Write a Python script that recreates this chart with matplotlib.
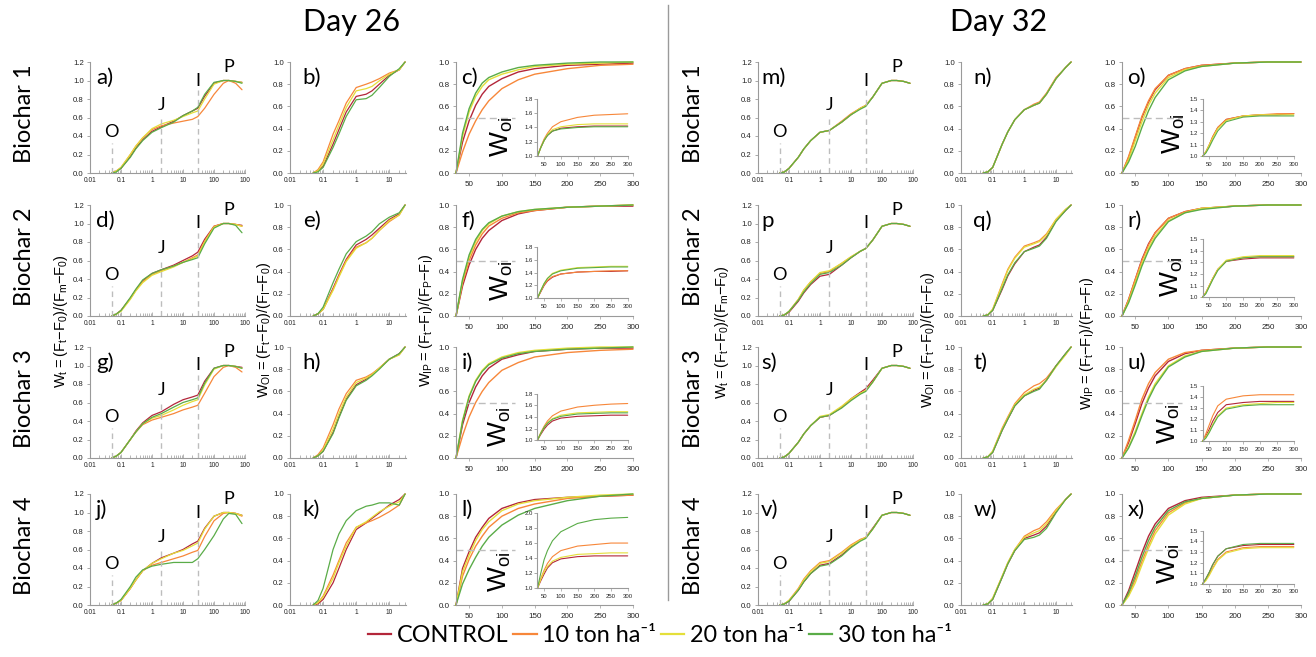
import numpy as np
import matplotlib
matplotlib.use('Agg')
import matplotlib.pyplot as plt
from matplotlib.lines import Line2D

plt.rcParams['font.family'] = ['Liberation Sans', 'DejaVu Sans']
BIG = ['Lato', 'DejaVu Sans']

W, H = 1316, 657

# treatments, in plotting order
TREATMENTS = ['CONTROL', '10 ton ha\u207b\u00b9', '20 ton ha\u207b\u00b9', '30 ton ha\u207b\u00b9']
COLORS = ['#b3263a', '#f7873a', '#e4df3a', '#5aac48']

DAYS = ['Day 26', 'Day 32']
BIOCHARS = ['Biochar 1', 'Biochar 2', 'Biochar 3', 'Biochar 4']

# time axes (ms)
T_OJIP = [0.05, 0.07, 0.1, 0.2, 0.3, 0.5, 1, 2, 5, 10, 20, 30, 50, 100, 200, 300, 500, 800]
T_WOI = [0.05, 0.07, 0.1, 0.2, 0.3, 0.5, 1, 2, 3, 5, 10, 20, 30]
T_WIP = [30, 40, 50, 60, 70, 80, 100, 125, 150, 200, 250, 300]
T_INS = [30, 40, 50, 60, 75, 100, 150, 200, 250, 300]

OJIP_TICKS = [0.01, 0.1, 1, 10, 100, 1000]
OJIP_TICKLABELS = ['0.01', '0.1', '1', '10', '100', '100']
WOI_TICKS = [0.01, 0.1, 1, 10]
WOI_TICKLABELS = ['0.01', '0.1', '1', '10']

# O, J, I, P steps
STEP_NAMES = ['O', 'J', 'I', 'P']
STEP_TIMES = [0.05, 2, 30, 300]
STEP_GUIDE_TOP = [0.32, 0.58, 0.9]
STEP_TEXT_Y = [0.44, 0.74, 1.0, 1.15]

HALF_LEVEL = 0.5
HALF_XMAX = 120

# ---- Day 26: W_t = (Ft-F0)/(Fm-F0) ------------------------------------
wt_a = [[0, 0.02, 0.05, 0.18, 0.27, 0.36, 0.45, 0.50, 0.56, 0.62, 0.67, 0.70, 0.83, 0.97, 1.00, 1.00, 0.99, 0.98],
        [0, 0.02, 0.06, 0.20, 0.29, 0.38, 0.47, 0.51, 0.54, 0.56, 0.58, 0.61, 0.70, 0.85, 0.97, 1.00, 0.97, 0.90],
        [0, 0.02, 0.06, 0.20, 0.29, 0.38, 0.48, 0.53, 0.57, 0.61, 0.65, 0.67, 0.80, 0.96, 1.00, 1.00, 0.99, 0.98],
        [0, 0.01, 0.05, 0.17, 0.26, 0.35, 0.44, 0.49, 0.55, 0.62, 0.67, 0.71, 0.85, 0.98, 1.00, 1.00, 0.99, 0.97]]
wt_d = [[0, 0.02, 0.06, 0.19, 0.28, 0.38, 0.46, 0.50, 0.55, 0.60, 0.65, 0.69, 0.83, 0.97, 1.00, 1.00, 0.99, 0.98],
        [0, 0.02, 0.06, 0.19, 0.28, 0.37, 0.45, 0.49, 0.54, 0.58, 0.63, 0.66, 0.81, 0.97, 1.00, 1.00, 0.99, 0.97],
        [0, 0.02, 0.05, 0.18, 0.27, 0.36, 0.44, 0.48, 0.53, 0.58, 0.62, 0.65, 0.80, 0.96, 1.00, 1.00, 0.99, 0.97],
        [0, 0.02, 0.06, 0.20, 0.29, 0.39, 0.46, 0.50, 0.54, 0.58, 0.61, 0.63, 0.78, 0.95, 1.00, 1.00, 0.98, 0.90]]
wt_g = [[0, 0.02, 0.06, 0.20, 0.29, 0.38, 0.46, 0.50, 0.58, 0.63, 0.66, 0.68, 0.83, 0.97, 1.00, 1.00, 0.99, 0.98],
        [0, 0.02, 0.06, 0.20, 0.28, 0.36, 0.41, 0.44, 0.48, 0.52, 0.55, 0.57, 0.70, 0.88, 0.98, 1.00, 0.98, 0.93],
        [0, 0.02, 0.06, 0.20, 0.28, 0.37, 0.43, 0.46, 0.52, 0.57, 0.61, 0.63, 0.79, 0.96, 1.00, 1.00, 0.99, 0.97],
        [0, 0.02, 0.06, 0.20, 0.28, 0.37, 0.44, 0.48, 0.55, 0.60, 0.63, 0.65, 0.81, 0.97, 1.00, 1.00, 0.99, 0.97]]
wt_j = [[0, 0.02, 0.05, 0.18, 0.27, 0.37, 0.45, 0.51, 0.56, 0.60, 0.66, 0.69, 0.83, 0.96, 1.00, 1.00, 0.99, 0.97],
        [0, 0.02, 0.05, 0.18, 0.27, 0.37, 0.43, 0.46, 0.50, 0.53, 0.57, 0.59, 0.74, 0.91, 0.99, 1.00, 0.99, 0.96],
        [0, 0.02, 0.05, 0.18, 0.27, 0.37, 0.45, 0.50, 0.56, 0.59, 0.64, 0.67, 0.82, 0.96, 1.00, 1.00, 0.99, 0.97],
        [0, 0.02, 0.06, 0.20, 0.30, 0.38, 0.42, 0.44, 0.46, 0.46, 0.46, 0.50, 0.60, 0.75, 0.93, 0.99, 0.98, 0.88]]

# ---- Day 26: W_OI = (Ft-F0)/(FI-F0) -----------------------------------
woi_b = [[0, 0.02, 0.06, 0.26, 0.39, 0.55, 0.69, 0.71, 0.74, 0.80, 0.88, 0.93, 1.0],
         [0, 0.03, 0.10, 0.35, 0.47, 0.63, 0.77, 0.80, 0.82, 0.85, 0.90, 0.93, 1.0],
         [0, 0.02, 0.08, 0.30, 0.43, 0.59, 0.74, 0.76, 0.78, 0.83, 0.89, 0.93, 1.0],
         [0, 0.01, 0.05, 0.23, 0.35, 0.51, 0.66, 0.67, 0.70, 0.77, 0.87, 0.94, 1.0]]
woi_e = [[0, 0.02, 0.06, 0.25, 0.37, 0.51, 0.64, 0.69, 0.73, 0.79, 0.87, 0.92, 1.0],
         [0, 0.02, 0.06, 0.24, 0.36, 0.50, 0.62, 0.66, 0.70, 0.77, 0.85, 0.91, 1.0],
         [0, 0.02, 0.06, 0.23, 0.35, 0.49, 0.61, 0.66, 0.70, 0.77, 0.86, 0.91, 1.0],
         [0, 0.02, 0.08, 0.30, 0.42, 0.56, 0.67, 0.72, 0.76, 0.83, 0.89, 0.93, 1.0]]
woi_h = [[0, 0.02, 0.06, 0.23, 0.37, 0.53, 0.66, 0.71, 0.75, 0.81, 0.89, 0.94, 1.0],
         [0, 0.03, 0.09, 0.30, 0.44, 0.58, 0.70, 0.73, 0.76, 0.81, 0.89, 0.93, 1.0],
         [0, 0.02, 0.07, 0.26, 0.40, 0.55, 0.68, 0.72, 0.75, 0.81, 0.89, 0.93, 1.0],
         [0, 0.02, 0.06, 0.22, 0.36, 0.52, 0.65, 0.70, 0.74, 0.80, 0.89, 0.94, 1.0]]
woi_k = [[0, 0.01, 0.05, 0.20, 0.33, 0.50, 0.68, 0.74, 0.78, 0.83, 0.90, 0.95, 1.0],
         [0, 0.02, 0.08, 0.27, 0.40, 0.56, 0.70, 0.74, 0.76, 0.79, 0.84, 0.90, 1.0],
         [0, 0.02, 0.07, 0.24, 0.38, 0.53, 0.70, 0.75, 0.79, 0.84, 0.89, 0.93, 1.0],
         [0, 0.04, 0.15, 0.50, 0.64, 0.76, 0.85, 0.89, 0.90, 0.92, 0.92, 0.90, 1.0]]

# ---- Day 26: W_IP = (Ft-FI)/(FP-FI) -----------------------------------
wip_c = [[0, 0.28, 0.47, 0.61, 0.71, 0.78, 0.85, 0.91, 0.94, 0.97, 0.98, 0.99],
         [0, 0.19, 0.35, 0.47, 0.57, 0.65, 0.76, 0.84, 0.89, 0.94, 0.97, 0.98],
         [0, 0.33, 0.55, 0.69, 0.78, 0.84, 0.89, 0.93, 0.96, 0.98, 0.99, 1.00],
         [0, 0.36, 0.58, 0.72, 0.81, 0.86, 0.91, 0.95, 0.97, 0.99, 1.00, 1.00]]
wip_f = [[0, 0.27, 0.46, 0.60, 0.70, 0.77, 0.86, 0.92, 0.95, 0.98, 0.99, 0.99],
         [0, 0.30, 0.50, 0.64, 0.74, 0.81, 0.88, 0.93, 0.95, 0.98, 0.99, 1.00],
         [0, 0.32, 0.53, 0.67, 0.77, 0.83, 0.90, 0.94, 0.96, 0.98, 0.99, 1.00],
         [0, 0.33, 0.55, 0.69, 0.78, 0.84, 0.90, 0.94, 0.96, 0.98, 0.99, 1.00]]
wip_i = [[0, 0.30, 0.50, 0.64, 0.74, 0.81, 0.89, 0.93, 0.96, 0.98, 0.99, 0.99],
         [0, 0.20, 0.37, 0.50, 0.60, 0.68, 0.79, 0.86, 0.91, 0.95, 0.97, 0.98],
         [0, 0.34, 0.56, 0.70, 0.79, 0.85, 0.91, 0.95, 0.97, 0.99, 1.00, 1.00],
         [0, 0.33, 0.55, 0.69, 0.78, 0.84, 0.90, 0.94, 0.96, 0.98, 0.99, 1.00]]
wip_l = [[0, 0.33, 0.48, 0.61, 0.70, 0.78, 0.87, 0.92, 0.95, 0.97, 0.98, 0.99],
         [0, 0.26, 0.41, 0.53, 0.62, 0.70, 0.80, 0.87, 0.91, 0.96, 0.98, 0.99],
         [0, 0.30, 0.45, 0.58, 0.68, 0.75, 0.85, 0.91, 0.94, 0.97, 0.99, 1.00],
         [0, 0.19, 0.32, 0.43, 0.53, 0.61, 0.72, 0.81, 0.87, 0.94, 0.98, 1.00]]

# inset W_OI over the I-P phase
ins_c = [[1.0, 1.12, 1.22, 1.29, 1.35, 1.39, 1.41, 1.42, 1.42, 1.42],
         [1.0, 1.13, 1.24, 1.32, 1.41, 1.48, 1.54, 1.57, 1.58, 1.59],
         [1.0, 1.12, 1.22, 1.30, 1.37, 1.41, 1.44, 1.45, 1.45, 1.45],
         [1.0, 1.12, 1.22, 1.29, 1.35, 1.38, 1.40, 1.41, 1.41, 1.41]]
ins_f = [[1.0, 1.10, 1.20, 1.27, 1.33, 1.38, 1.41, 1.42, 1.42, 1.43],
         [1.0, 1.11, 1.21, 1.28, 1.34, 1.38, 1.41, 1.42, 1.43, 1.43],
         [1.0, 1.12, 1.23, 1.31, 1.39, 1.44, 1.48, 1.49, 1.50, 1.50],
         [1.0, 1.12, 1.23, 1.31, 1.38, 1.43, 1.47, 1.48, 1.49, 1.49]]
ins_i = [[1.0, 1.10, 1.19, 1.26, 1.33, 1.38, 1.41, 1.42, 1.43, 1.43],
         [1.0, 1.13, 1.24, 1.33, 1.42, 1.50, 1.57, 1.60, 1.62, 1.63],
         [1.0, 1.12, 1.22, 1.30, 1.37, 1.43, 1.47, 1.48, 1.49, 1.49],
         [1.0, 1.12, 1.22, 1.29, 1.36, 1.41, 1.45, 1.46, 1.47, 1.47]]
ins_l = [[1.0, 1.10, 1.19, 1.27, 1.34, 1.39, 1.42, 1.43, 1.43, 1.43],
         [1.0, 1.13, 1.24, 1.33, 1.42, 1.50, 1.56, 1.58, 1.60, 1.60],
         [1.0, 1.12, 1.22, 1.29, 1.36, 1.41, 1.45, 1.46, 1.47, 1.47],
         [1.0, 1.20, 1.38, 1.50, 1.63, 1.75, 1.86, 1.91, 1.93, 1.94]]

# ---- Day 32 -----------------------------------------------------------
wt_m = [[0, 0.01, 0.05, 0.17, 0.26, 0.35, 0.44, 0.46, 0.55, 0.63, 0.70, 0.73, 0.82, 0.97, 1.00, 1.00, 0.99, 0.97],
        [0, 0.01, 0.05, 0.17, 0.26, 0.35, 0.44, 0.46, 0.56, 0.64, 0.70, 0.73, 0.82, 0.97, 1.00, 1.00, 0.99, 0.97],
        [0, 0.01, 0.05, 0.17, 0.26, 0.35, 0.44, 0.46, 0.55, 0.63, 0.70, 0.73, 0.82, 0.97, 1.00, 1.00, 0.99, 0.97],
        [0, 0.01, 0.05, 0.17, 0.26, 0.35, 0.44, 0.46, 0.55, 0.63, 0.69, 0.72, 0.82, 0.97, 1.00, 1.00, 0.99, 0.97]]
wt_p = [[0, 0.01, 0.04, 0.16, 0.25, 0.34, 0.43, 0.45, 0.55, 0.63, 0.70, 0.73, 0.82, 0.97, 1.00, 1.00, 0.99, 0.97],
        [0, 0.01, 0.05, 0.18, 0.28, 0.37, 0.46, 0.48, 0.57, 0.64, 0.70, 0.73, 0.82, 0.97, 1.00, 1.00, 0.99, 0.97],
        [0, 0.01, 0.05, 0.18, 0.28, 0.37, 0.47, 0.49, 0.57, 0.64, 0.70, 0.73, 0.82, 0.97, 1.00, 1.00, 0.99, 0.97],
        [0, 0.01, 0.05, 0.17, 0.26, 0.35, 0.45, 0.47, 0.55, 0.63, 0.70, 0.73, 0.82, 0.97, 1.00, 1.00, 0.99, 0.97]]
wt_s = [[0, 0.01, 0.05, 0.17, 0.26, 0.35, 0.44, 0.46, 0.55, 0.64, 0.71, 0.75, 0.84, 0.97, 1.00, 1.00, 0.99, 0.97],
        [0, 0.01, 0.05, 0.17, 0.26, 0.35, 0.44, 0.46, 0.55, 0.63, 0.70, 0.73, 0.82, 0.97, 1.00, 1.00, 0.99, 0.97],
        [0, 0.01, 0.05, 0.17, 0.26, 0.35, 0.45, 0.47, 0.56, 0.64, 0.70, 0.73, 0.82, 0.97, 1.00, 1.00, 0.99, 0.97],
        [0, 0.01, 0.05, 0.17, 0.26, 0.35, 0.44, 0.46, 0.54, 0.62, 0.69, 0.72, 0.82, 0.97, 1.00, 1.00, 0.99, 0.97]]
wt_v = [[0, 0.01, 0.04, 0.16, 0.25, 0.34, 0.43, 0.45, 0.54, 0.63, 0.70, 0.73, 0.83, 0.97, 1.00, 1.00, 0.99, 0.97],
        [0, 0.01, 0.05, 0.18, 0.28, 0.37, 0.46, 0.48, 0.57, 0.65, 0.71, 0.73, 0.82, 0.97, 1.00, 1.00, 0.99, 0.97],
        [0, 0.01, 0.05, 0.17, 0.27, 0.36, 0.45, 0.47, 0.56, 0.64, 0.70, 0.73, 0.82, 0.97, 1.00, 1.00, 0.99, 0.97],
        [0, 0.01, 0.04, 0.16, 0.25, 0.34, 0.42, 0.44, 0.53, 0.62, 0.69, 0.72, 0.82, 0.97, 1.00, 1.00, 0.99, 0.97]]

woi_n = [[0, 0.01, 0.05, 0.26, 0.37, 0.48, 0.57, 0.61, 0.63, 0.71, 0.85, 0.95, 1.0],
         [0, 0.01, 0.05, 0.26, 0.37, 0.48, 0.57, 0.62, 0.64, 0.72, 0.86, 0.95, 1.0],
         [0, 0.01, 0.05, 0.26, 0.37, 0.48, 0.57, 0.61, 0.63, 0.71, 0.85, 0.95, 1.0],
         [0, 0.01, 0.05, 0.26, 0.37, 0.48, 0.57, 0.61, 0.63, 0.71, 0.85, 0.95, 1.0]]
woi_q = [[0, 0.01, 0.05, 0.24, 0.36, 0.47, 0.58, 0.62, 0.64, 0.71, 0.86, 0.95, 1.0],
         [0, 0.01, 0.06, 0.29, 0.42, 0.53, 0.63, 0.66, 0.68, 0.74, 0.87, 0.96, 1.0],
         [0, 0.01, 0.06, 0.28, 0.41, 0.52, 0.62, 0.65, 0.67, 0.73, 0.87, 0.96, 1.0],
         [0, 0.01, 0.05, 0.25, 0.37, 0.48, 0.58, 0.61, 0.63, 0.70, 0.85, 0.95, 1.0]]
woi_t = [[0, 0.01, 0.05, 0.25, 0.35, 0.47, 0.56, 0.61, 0.63, 0.70, 0.83, 0.94, 1.0],
         [0, 0.01, 0.06, 0.27, 0.37, 0.49, 0.59, 0.65, 0.67, 0.72, 0.83, 0.93, 1.0],
         [0, 0.01, 0.06, 0.26, 0.36, 0.48, 0.57, 0.62, 0.64, 0.70, 0.82, 0.93, 1.0],
         [0, 0.01, 0.05, 0.25, 0.35, 0.47, 0.56, 0.60, 0.62, 0.70, 0.83, 0.94, 1.0]]
woi_w = [[0, 0.01, 0.05, 0.25, 0.37, 0.49, 0.60, 0.63, 0.65, 0.71, 0.84, 0.95, 1.0],
         [0, 0.01, 0.06, 0.26, 0.38, 0.50, 0.62, 0.67, 0.69, 0.75, 0.86, 0.95, 1.0],
         [0, 0.01, 0.06, 0.26, 0.38, 0.50, 0.61, 0.65, 0.67, 0.73, 0.85, 0.95, 1.0],
         [0, 0.01, 0.05, 0.25, 0.37, 0.49, 0.59, 0.61, 0.63, 0.69, 0.83, 0.95, 1.0]]

wip_o = [[0, 0.14, 0.32, 0.50, 0.64, 0.75, 0.88, 0.94, 0.97, 0.99, 1.00, 1.00],
         [0, 0.15, 0.33, 0.51, 0.65, 0.76, 0.88, 0.94, 0.97, 0.99, 1.00, 1.00],
         [0, 0.12, 0.29, 0.46, 0.61, 0.72, 0.86, 0.93, 0.96, 0.99, 1.00, 1.00],
         [0, 0.10, 0.24, 0.41, 0.56, 0.68, 0.84, 0.92, 0.96, 0.99, 1.00, 1.00]]
wip_r = [[0, 0.15, 0.33, 0.51, 0.65, 0.75, 0.88, 0.94, 0.97, 0.99, 1.00, 1.00],
         [0, 0.15, 0.33, 0.50, 0.64, 0.75, 0.88, 0.94, 0.97, 0.99, 1.00, 1.00],
         [0, 0.13, 0.30, 0.47, 0.61, 0.72, 0.86, 0.93, 0.97, 0.99, 1.00, 1.00],
         [0, 0.12, 0.28, 0.45, 0.59, 0.70, 0.85, 0.93, 0.96, 0.99, 1.00, 1.00]]
wip_u = [[0, 0.14, 0.31, 0.49, 0.63, 0.74, 0.87, 0.94, 0.97, 0.99, 1.00, 1.00],
         [0, 0.16, 0.34, 0.53, 0.67, 0.77, 0.89, 0.95, 0.97, 0.99, 1.00, 1.00],
         [0, 0.10, 0.24, 0.40, 0.55, 0.67, 0.83, 0.92, 0.96, 0.99, 1.00, 1.00],
         [0, 0.09, 0.22, 0.38, 0.53, 0.65, 0.82, 0.91, 0.96, 0.99, 1.00, 1.00]]
wip_x = [[0, 0.13, 0.30, 0.47, 0.62, 0.73, 0.87, 0.94, 0.97, 0.99, 1.00, 1.00],
         [0, 0.09, 0.23, 0.39, 0.54, 0.67, 0.83, 0.92, 0.96, 0.99, 1.00, 1.00],
         [0, 0.08, 0.20, 0.36, 0.51, 0.64, 0.81, 0.91, 0.96, 0.99, 1.00, 1.00],
         [0, 0.11, 0.26, 0.43, 0.58, 0.70, 0.85, 0.93, 0.96, 0.99, 1.00, 1.00]]

ins_o = [[1.0, 1.04, 1.10, 1.17, 1.25, 1.32, 1.35, 1.36, 1.36, 1.37],
         [1.0, 1.04, 1.10, 1.17, 1.25, 1.32, 1.35, 1.36, 1.37, 1.37],
         [1.0, 1.04, 1.10, 1.16, 1.24, 1.31, 1.35, 1.36, 1.36, 1.36],
         [1.0, 1.03, 1.08, 1.14, 1.22, 1.30, 1.34, 1.35, 1.35, 1.35]]
ins_r = [[1.0, 1.04, 1.10, 1.16, 1.24, 1.31, 1.33, 1.34, 1.34, 1.34],
         [1.0, 1.04, 1.10, 1.16, 1.24, 1.31, 1.34, 1.35, 1.35, 1.35],
         [1.0, 1.04, 1.10, 1.16, 1.24, 1.32, 1.35, 1.36, 1.36, 1.36],
         [1.0, 1.03, 1.09, 1.15, 1.23, 1.31, 1.34, 1.35, 1.35, 1.35]]
ins_u = [[1.0, 1.05, 1.11, 1.18, 1.26, 1.33, 1.35, 1.36, 1.36, 1.36],
         [1.0, 1.07, 1.15, 1.23, 1.32, 1.38, 1.41, 1.42, 1.42, 1.42],
         [1.0, 1.04, 1.09, 1.15, 1.23, 1.30, 1.33, 1.34, 1.35, 1.35],
         [1.0, 1.03, 1.08, 1.14, 1.22, 1.29, 1.32, 1.33, 1.33, 1.33]]
ins_x = [[1.0, 1.05, 1.11, 1.18, 1.26, 1.33, 1.36, 1.37, 1.37, 1.37],
         [1.0, 1.04, 1.09, 1.15, 1.23, 1.30, 1.34, 1.35, 1.35, 1.35],
         [1.0, 1.03, 1.08, 1.14, 1.22, 1.29, 1.33, 1.34, 1.34, 1.34],
         [1.0, 1.05, 1.11, 1.18, 1.26, 1.33, 1.37, 1.38, 1.38, 1.38]]

# panel layout in pixels
ROW_TOP = [62, 205, 347, 494]
ROW_BOT = [173, 316, 458, 605]
COLS = [[(90, 245), (290, 406), (456, 633)],
        [(758, 913), (961, 1072), (1122, 1301)]]

PANELS = [
    [  # Day 26
        (wt_a, 'a)', woi_b, 'b)', wip_c, ins_c, 'c)'),
        (wt_d, 'd)', woi_e, 'e)', wip_f, ins_f, 'f)'),
        (wt_g, 'g)', woi_h, 'h)', wip_i, ins_i, 'i)'),
        (wt_j, 'j)', woi_k, 'k)', wip_l, ins_l, 'l)'),
    ],
    [  # Day 32
        (wt_m, 'm)', woi_n, 'n)', wip_o, ins_o, 'o)'),
        (wt_p, 'p', woi_q, 'q)', wip_r, ins_r, 'r)'),
        (wt_s, 's)', woi_t, 't)', wip_u, ins_u, 'u)'),
        (wt_v, 'v)', woi_w, 'w)', wip_x, ins_x, 'x)'),
    ],
]
INSET_YLIM = [[(1.0, 1.8), (1.0, 1.8), (1.0, 1.8), (1.0, 2.0)],
              [(1.0, 1.5), (1.0, 1.5), (1.0, 1.5), (1.0, 1.5)]]
INSET_RECT = [[[0.46, 0.15, 0.51, 0.52], [0.46, 0.16, 0.51, 0.46],
               [0.46, 0.16, 0.51, 0.42], [0.46, 0.15, 0.51, 0.68]],
              [[0.45, 0.15, 0.51, 0.52], [0.45, 0.17, 0.51, 0.52],
               [0.45, 0.15, 0.51, 0.50], [0.45, 0.19, 0.51, 0.48]]]
WOI_LABEL_POS = [[(0.26, 0.33), (0.26, 0.32), (0.25, 0.28), (0.25, 0.30)],
                 [(0.29, 0.35), (0.28, 0.35), (0.26, 0.31), (0.26, 0.37)]]

YLABELS = [r'$\mathregular{W_t = (F_t{-}F_0)/(F_m{-}F_0)}$',
           r'$\mathregular{W_{OI} = (F_t{-}F_0)/(F_I{-}F_0)}$',
           r'$\mathregular{W_{IP} = (F_t{-}F_I)/(F_P{-}F_I)}$']
YLABEL_X = [[61, 264, 426], [722, 928, 1087]]
YLABEL_Y = [[321, 330, 320], [332, 340, 343]]

fig = plt.figure(figsize=(W / 100, H / 100), dpi=100)


def place(x0, y0, x1, y1):
    return fig.add_axes([x0 / W, 1 - y1 / H, (x1 - x0) / W, (y1 - y0) / H])


def style(ax, xsize, ysize):
    for s in ('top', 'right'):
        ax.spines[s].set_visible(False)
    for s in ('left', 'bottom'):
        ax.spines[s].set_color('#9a9a9a')
        ax.spines[s].set_linewidth(0.8)
    ax.tick_params(axis='y', labelsize=ysize, colors='#9a9a9a', labelcolor='#222222',
                   length=2.5, width=0.6, pad=2)
    ax.tick_params(axis='x', which='both', labelsize=xsize, colors='#9a9a9a',
                   labelcolor='#222222', direction='in', width=0.5, pad=3)
    ax.tick_params(axis='x', which='major', length=3)
    ax.tick_params(axis='x', which='minor', length=2)
    ax.patch.set_alpha(0)


def draw_curves(ax, t, curves, lw=0.9):
    for ys, c in zip(curves, COLORS):
        ax.plot(t, ys, color=c, lw=lw, clip_on=False, solid_capstyle='round')


def ojip_panel(ax, curves, tag, tag_x):
    draw_curves(ax, T_OJIP, curves)
    ax.set_xscale('log')
    ax.set_xlim(0.01, 1000)
    ax.set_ylim(0, 1.2)
    ax.set_xticks(OJIP_TICKS)
    ax.set_xticklabels(OJIP_TICKLABELS)
    ax.set_yticks(np.round(np.arange(0, 1.21, 0.2), 1))
    ax.yaxis.set_major_formatter('{x:.1f}')
    ax.vlines(STEP_TIMES[:3], 0, STEP_GUIDE_TOP, colors='#bdbdbd',
              linestyles=(0, (4, 3)), lw=1)
    for t, y, s in zip(STEP_TIMES, STEP_TEXT_Y, STEP_NAMES):
        ax.text(t, y, s, ha='center', va='center', fontsize=13, family=BIG)
    ax.text(tag_x, 0.86, tag, transform=ax.transAxes, ha='left', va='center',
            fontsize=16, family=BIG)
    style(ax, 4.8, 5.6)


def woi_panel(ax, curves, tag):
    draw_curves(ax, T_WOI, curves)
    ax.set_xscale('log')
    ax.set_xlim(0.01, 32)
    ax.set_ylim(0, 1.0)
    ax.set_xticks(WOI_TICKS)
    ax.set_xticklabels(WOI_TICKLABELS)
    ax.set_yticks(np.round(np.arange(0, 1.01, 0.2), 1))
    ax.yaxis.set_major_formatter('{x:.1f}')
    ax.text(0.11, 0.86, tag, transform=ax.transAxes, ha='left', va='center',
            fontsize=16, family=BIG)
    style(ax, 4.8, 5.6)


def wip_panel(ax, curves, inset, tag, ylim, rect, lab_pos):
    draw_curves(ax, T_WIP, curves, lw=1.0)
    ax.set_xlim(30, 300)
    ax.set_ylim(0, 1.0)
    ax.set_xticks([50, 100, 150, 200, 250, 300])
    ax.set_yticks(np.round(np.arange(0, 1.01, 0.2), 1))
    ax.yaxis.set_major_formatter('{x:.1f}')
    ax.plot([T_WIP[0], HALF_XMAX], [HALF_LEVEL, HALF_LEVEL], color='#bdbdbd',
            ls=(0, (5, 3)), lw=1)
    ax.text(0.03, 0.86, tag, transform=ax.transAxes, ha='left', va='center',
            fontsize=16, family=BIG)
    style(ax, 5.8, 5.8)
    ax.tick_params(axis='x', which='both', direction='out', length=2.5)

    ins = ax.inset_axes(rect)
    draw_curves(ins, T_INS, inset, lw=0.8)
    ins.set_xlim(30, 300)
    ins.set_ylim(*ylim)
    ins.set_xticks([50, 100, 150, 200, 250, 300])
    step = 0.1 if ylim[1] < 1.6 else 0.2
    ins.set_yticks(np.round(np.arange(ylim[0], ylim[1] + 1e-6, step), 1))
    ins.yaxis.set_major_formatter('{x:.1f}')
    style(ins, 4.3, 4.3)
    ins.tick_params(axis='x', which='both', direction='out', length=2, pad=2)
    ins.tick_params(axis='y', length=2, pad=1.5)
    ax.text(lab_pos[0], lab_pos[1], r'$\mathregular{W_{oi}}$', transform=ax.transAxes,
            rotation=90, ha='center', va='center', fontsize=19)


for d in range(2):
    (c1, c2, c3) = COLS[d]
    for r in range(4):
        wt, t1, woi, t2, wip, ins, t3 = PANELS[d][r]
        top, bot = ROW_TOP[r], ROW_BOT[r]
        ojip_panel(place(c1[0], top, c1[1], bot), wt, t1, 0.04 if d == 0 else 0.02)
        woi_panel(place(c2[0], top, c2[1], bot), woi, t2)
        wip_panel(place(c3[0], top, c3[1], bot), wip, ins, t3,
                  INSET_YLIM[d][r], INSET_RECT[d][r], WOI_LABEL_POS[d][r])

        bx = 25 if d == 0 else 694
        fig.text(bx / W, 1 - ((top + bot) / 2 - 4) / H, BIOCHARS[r], rotation=90,
                 ha='center', va='center', fontsize=17, family=BIG)

    for k in range(3):
        fig.text(YLABEL_X[d][k] / W, 1 - YLABEL_Y[d][k] / H, YLABELS[k], rotation=90,
                 ha='center', va='center', fontsize=10.5)

fig.text(352 / W, 1 - 22 / H, DAYS[0], ha='center', va='center', fontsize=22, family=BIG)
fig.text(999 / W, 1 - 22 / H, DAYS[1], ha='center', va='center', fontsize=22, family=BIG)

# separator between the two sampling days
fig.add_artist(Line2D([668 / W, 668 / W], [1 - 5 / H, 1 - 600 / H],
                      color='#9a9a9a', lw=1))

handles = [Line2D([], [], color=c, lw=1.6) for c in COLORS]
fig.legend(handles, TREATMENTS, loc='center', bbox_to_anchor=(660 / W, 1 - 636 / H),
           ncol=4, frameon=False, prop={'family': BIG, 'size': 16.8},
           handlelength=1.0, handletextpad=0.25, columnspacing=0.2)

fig.savefig('out.png', dpi=100)
